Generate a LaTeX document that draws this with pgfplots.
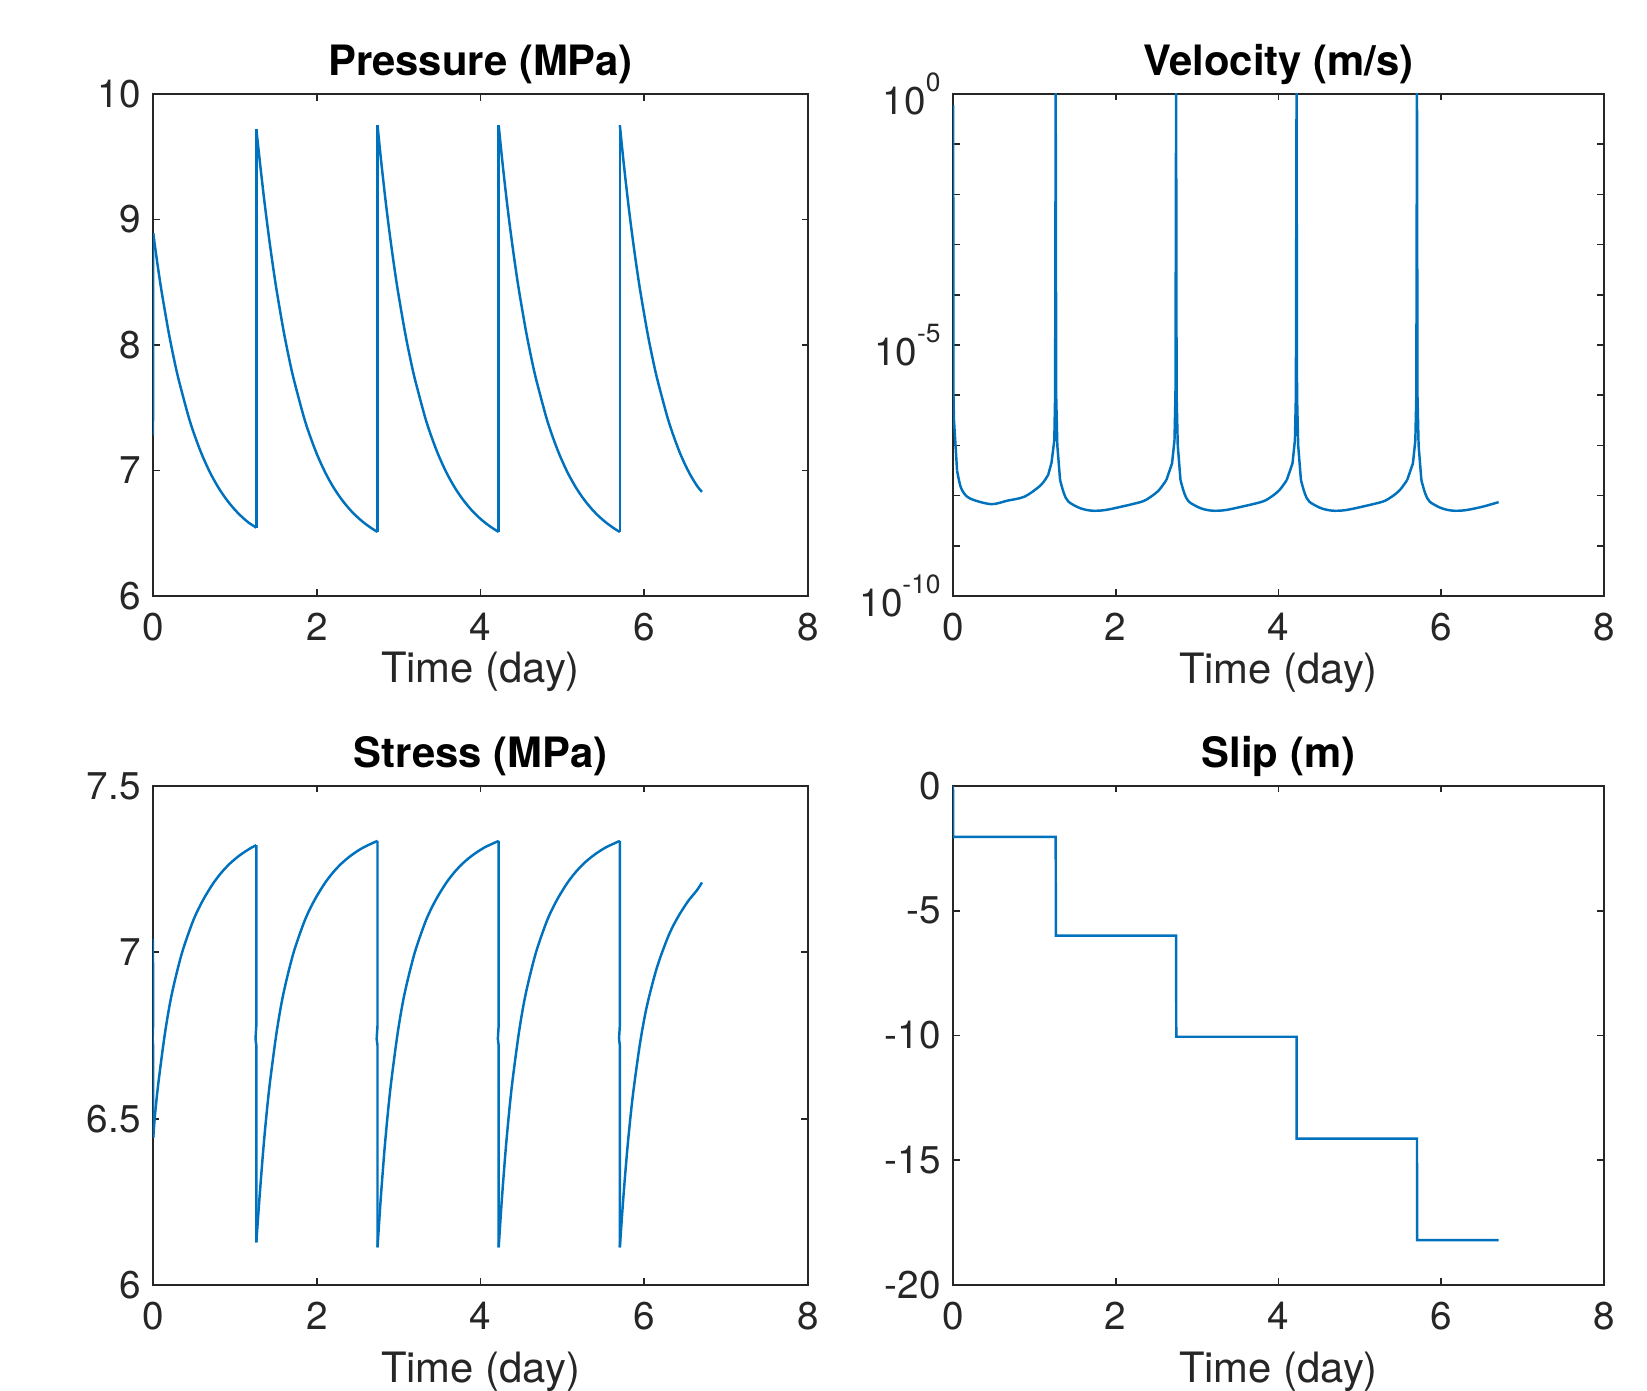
\documentclass[border=0pt]{standalone}
\usepackage{fontspec}
\setmainfont{TeX Gyre Heros}
\usepackage{pgfplots}
\pgfplotsset{compat=1.18}
\definecolor{matblue}{HTML}{0072BD}
\definecolor{axgray}{HTML}{262626}
\newcommand\ticksize{\fontsize{11}{13}\selectfont}
\newcommand\labsize{\fontsize{11.9}{14}\selectfont}
\newcommand\sups[1]{\raisebox{0.6em}{\fontsize{7.5}{8}\selectfont #1}}
\pgfplotsset{
  mat/.style={
    scale only axis,
    xmin=0,xmax=8,xtick={0,2,4,6,8},
    tick align=inside,
    major tick length=0.065cm,minor tick length=0.065cm,
    axis line style={draw=axgray,line width=0.5pt},
    every tick/.style={draw=axgray,line width=0.5pt},
    tick label style={font=\ticksize,text=axgray},
    /pgf/number format/assume math mode=true,
    xticklabel style={yshift=-0.05cm},
    xlabel={Time (day)},
    xlabel style={font=\labsize,text=axgray,at={(axis description cs:0.5,0)},anchor=base,yshift=-0.87cm},
    every axis title/.style={font=\labsize\bfseries,text=black,at={(0.5,1)},anchor=base,yshift=0.185cm},
  },
  low/.style={xlabel style={yshift=-0.11cm}},
  ln/.style={draw=matblue,line width=0.7pt,mark=none}
}
\begin{document}
\begin{tikzpicture}
\useasboundingbox (0,0) rectangle (16.47cm,13.91cm);

% pressure
\begin{axis}[mat,at={(1.53cm,7.95cm)},anchor=south west,width=6.55cm,height=5.02cm,
  ymin=6,ymax=10,ytick={6,7,8,9,10},title={Pressure (MPa)}]
\addplot[ln] coordinates {(0,7.28) (0.003,8.89)};
\addplot[ln,smooth] coordinates {(0.003,8.89) (0.025,8.783) (0.065,8.598) (0.105,8.427) (0.185,8.123) (0.245,7.924) (0.31,7.733) (0.432,7.434) (0.505,7.286) (0.595,7.130) (0.695,6.986) (0.795,6.868) (0.895,6.771) (1.0,6.687) (1.085,6.631) (1.165,6.586) (1.262,6.545)};
\addplot[ln] coordinates {(1.262,6.545) (1.262,9.72)};
\addplot[ln,smooth] coordinates {(1.262,9.72) (1.307,9.450) (1.352,9.192) (1.392,8.980) (1.432,8.782) (1.472,8.598) (1.512,8.427) (1.592,8.123) (1.652,7.924) (1.717,7.733) (1.839,7.434) (1.912,7.286) (2.002,7.130) (2.102,6.986) (2.202,6.868) (2.302,6.771) (2.407,6.687) (2.492,6.631) (2.572,6.586) (2.662,6.543) (2.742,6.510)};
\addplot[ln] coordinates {(2.742,6.510) (2.742,9.75)};
\addplot[ln,smooth] coordinates {(2.742,9.75) (2.787,9.462) (2.832,9.198) (2.872,8.982) (2.912,8.783) (2.952,8.598) (2.992,8.427) (3.072,8.123) (3.132,7.924) (3.197,7.733) (3.319,7.434) (3.392,7.286) (3.482,7.130) (3.582,6.986) (3.682,6.868) (3.782,6.771) (3.887,6.687) (3.972,6.631) (4.052,6.586) (4.142,6.543) (4.222,6.510)};
\addplot[ln] coordinates {(4.222,6.510) (4.222,9.75)};
\addplot[ln,smooth] coordinates {(4.222,9.75) (4.267,9.462) (4.312,9.198) (4.352,8.982) (4.392,8.783) (4.432,8.598) (4.472,8.427) (4.552,8.123) (4.612,7.924) (4.677,7.733) (4.799,7.434) (4.872,7.286) (4.962,7.130) (5.062,6.986) (5.162,6.868) (5.262,6.771) (5.367,6.687) (5.452,6.631) (5.532,6.586) (5.622,6.543) (5.702,6.510)};
\addplot[ln] coordinates {(5.702,6.510) (5.702,9.75)};
\addplot[ln,smooth] coordinates {(5.702,9.75) (5.747,9.462) (5.792,9.198) (5.832,8.982) (5.872,8.783) (5.912,8.598) (5.952,8.427) (6.032,8.123) (6.092,7.924) (6.157,7.733) (6.279,7.434) (6.352,7.286) (6.442,7.130) (6.542,6.990) (6.642,6.880) (6.705,6.830)};
\end{axis}

% velocity
\begin{axis}[mat,at={(9.53cm,7.95cm)},anchor=south west,width=6.51cm,height=5.02cm,
  ymode=log,ymin=1e-10,ymax=1,ytick={1e-10,1e-5,1},
  yticklabels={10\sups{-10},10\sups{-5},10\sups{0}},
  minor ytick={1e-9,1e-8,1e-7,1e-6,1e-4,1e-3,1e-2,1e-1},
  title={Velocity (m/s)}]
\addplot[ln] coordinates {(0,3e-6) (0.002,0.6) (0.006,1e-6) (0.012,3.16e-7) (0.05,3.16e-8)};
\addplot[ln,smooth] coordinates {(0.05,3.16e-8) (0.1,1.41e-8) (0.2,8.91e-9) (0.465,6.76e-9) (0.67,7.94e-9) (0.88,9.55e-9) (1.08,1.62e-8) (1.17,2.6e-8)};
\addplot[ln] coordinates {(1.17,2.6e-8) (1.21,4.47e-8) (1.245,1.26e-7) (1.255,1e-6) (1.262,1.5) (1.268,1e-6) (1.282,1e-7) (1.316,2.04e-8)};
\addplot[ln,smooth] coordinates {(1.316,2.04e-8) (1.362,1.12e-8) (1.418,7.59e-9) (1.562,5.62e-9) (1.702,5.01e-9) (1.862,5.13e-9) (2.072,6.03e-9) (2.322,7.59e-9) (2.432,9.5e-9) (2.532,1.29e-8) (2.622,2.04e-8)};
\addplot[ln] coordinates {(2.622,2.04e-8) (2.692,4.37e-8) (2.722,1.26e-7) (2.734,1e-6) (2.742,1.5) (2.748,1e-6) (2.762,1e-7) (2.796,2.04e-8)};
\addplot[ln,smooth] coordinates {(2.796,2.04e-8) (2.842,1.12e-8) (2.898,7.59e-9) (3.042,5.62e-9) (3.182,5.01e-9) (3.342,5.13e-9) (3.552,6.03e-9) (3.802,7.59e-9) (3.912,9.5e-9) (4.012,1.29e-8) (4.102,2.04e-8)};
\addplot[ln] coordinates {(4.102,2.04e-8) (4.172,4.37e-8) (4.202,1.26e-7) (4.214,1e-6) (4.222,1.5) (4.228,1e-6) (4.242,1e-7) (4.276,2.04e-8)};
\addplot[ln,smooth] coordinates {(4.276,2.04e-8) (4.322,1.12e-8) (4.378,7.59e-9) (4.522,5.62e-9) (4.662,5.01e-9) (4.822,5.13e-9) (5.032,6.03e-9) (5.282,7.59e-9) (5.392,9.5e-9) (5.492,1.29e-8) (5.582,2.04e-8)};
\addplot[ln] coordinates {(5.582,2.04e-8) (5.652,4.37e-8) (5.682,1.26e-7) (5.694,1e-6) (5.702,1.5) (5.708,1e-6) (5.722,1e-7) (5.756,2.04e-8)};
\addplot[ln,smooth] coordinates {(5.756,2.04e-8) (5.802,1.12e-8) (5.858,7.59e-9) (6.002,5.62e-9) (6.142,5.01e-9) (6.302,5.13e-9) (6.512,6.03e-9) (6.705,7.41e-9)};
\end{axis}

% stress
\begin{axis}[mat,low,at={(1.53cm,1.06cm)},anchor=south west,width=6.55cm,height=4.99cm,
  ymin=6,ymax=7.5,ytick={6,6.5,7,7.5},yticklabels={6,6.5,7,7.5},title={Stress (MPa)}]
\addplot[ln] coordinates {(0,7.04) (0.001,6.78) (-0.004,6.74) (0.001,6.72) (0.003,6.443)};
\addplot[ln,smooth] coordinates {(0.003,6.443) (0.025,6.513) (0.067,6.610) (0.148,6.760) (0.23,6.875) (0.35,6.995) (0.473,7.084) (0.55,7.128) (0.636,7.168) (0.74,7.209) (0.84,7.241) (0.94,7.267) (1.04,7.288) (1.12,7.302) (1.205,7.315) (1.262,7.322)};
\addplot[ln] coordinates {(1.262,7.322) (1.262,6.78) (1.252,6.74) (1.262,6.72) (1.262,6.128)};
\addplot[ln,smooth] coordinates {(1.262,6.128) (1.302,6.266) (1.347,6.407) (1.387,6.514) (1.429,6.610) (1.510,6.760) (1.592,6.875) (1.712,6.995) (1.835,7.084) (1.912,7.128) (1.998,7.168) (2.102,7.209) (2.202,7.241) (2.302,7.267) (2.402,7.288) (2.482,7.302) (2.567,7.315) (2.652,7.325) (2.742,7.335)};
\addplot[ln] coordinates {(2.742,7.335) (2.742,6.78) (2.732,6.74) (2.742,6.72) (2.742,6.113)};
\addplot[ln,smooth] coordinates {(2.742,6.113) (2.782,6.261) (2.827,6.405) (2.867,6.513) (2.909,6.610) (2.990,6.760) (3.072,6.875) (3.192,6.995) (3.315,7.084) (3.392,7.128) (3.478,7.168) (3.582,7.209) (3.682,7.241) (3.782,7.267) (3.882,7.288) (3.962,7.302) (4.047,7.315) (4.132,7.325) (4.222,7.335)};
\addplot[ln] coordinates {(4.222,7.335) (4.222,6.78) (4.212,6.74) (4.222,6.72) (4.222,6.113)};
\addplot[ln,smooth] coordinates {(4.222,6.113) (4.262,6.261) (4.307,6.405) (4.347,6.513) (4.389,6.610) (4.470,6.760) (4.552,6.875) (4.672,6.995) (4.795,7.084) (4.872,7.128) (4.958,7.168) (5.062,7.209) (5.162,7.241) (5.262,7.267) (5.362,7.288) (5.442,7.302) (5.527,7.315) (5.612,7.325) (5.702,7.335)};
\addplot[ln] coordinates {(5.702,7.335) (5.702,6.78) (5.692,6.74) (5.702,6.72) (5.702,6.113)};
\addplot[ln,smooth] coordinates {(5.702,6.113) (5.742,6.254) (5.787,6.391) (5.827,6.494) (5.869,6.586) (5.950,6.729) (6.032,6.838) (6.152,6.952) (6.275,7.037) (6.352,7.079) (6.438,7.117) (6.542,7.156) (6.642,7.186) (6.705,7.210)};
\end{axis}

% slip
\begin{axis}[mat,low,at={(9.53cm,1.06cm)},anchor=south west,width=6.51cm,height=4.99cm,
  ymin=-20,ymax=0,ytick={-20,-15,-10,-5,0},yticklabels={-20,-15,-10,-5,0},title={Slip (m)}]
\addplot[ln] coordinates {
(0,0) (0.003,-2.04) (1.262,-2.04) (1.264,-6.0) (2.742,-6.0) (2.744,-10.05) (4.222,-10.05) (4.224,-14.13) (5.702,-14.13) (5.704,-18.2) (6.705,-18.2)
};
\end{axis}
\end{tikzpicture}
\end{document}
